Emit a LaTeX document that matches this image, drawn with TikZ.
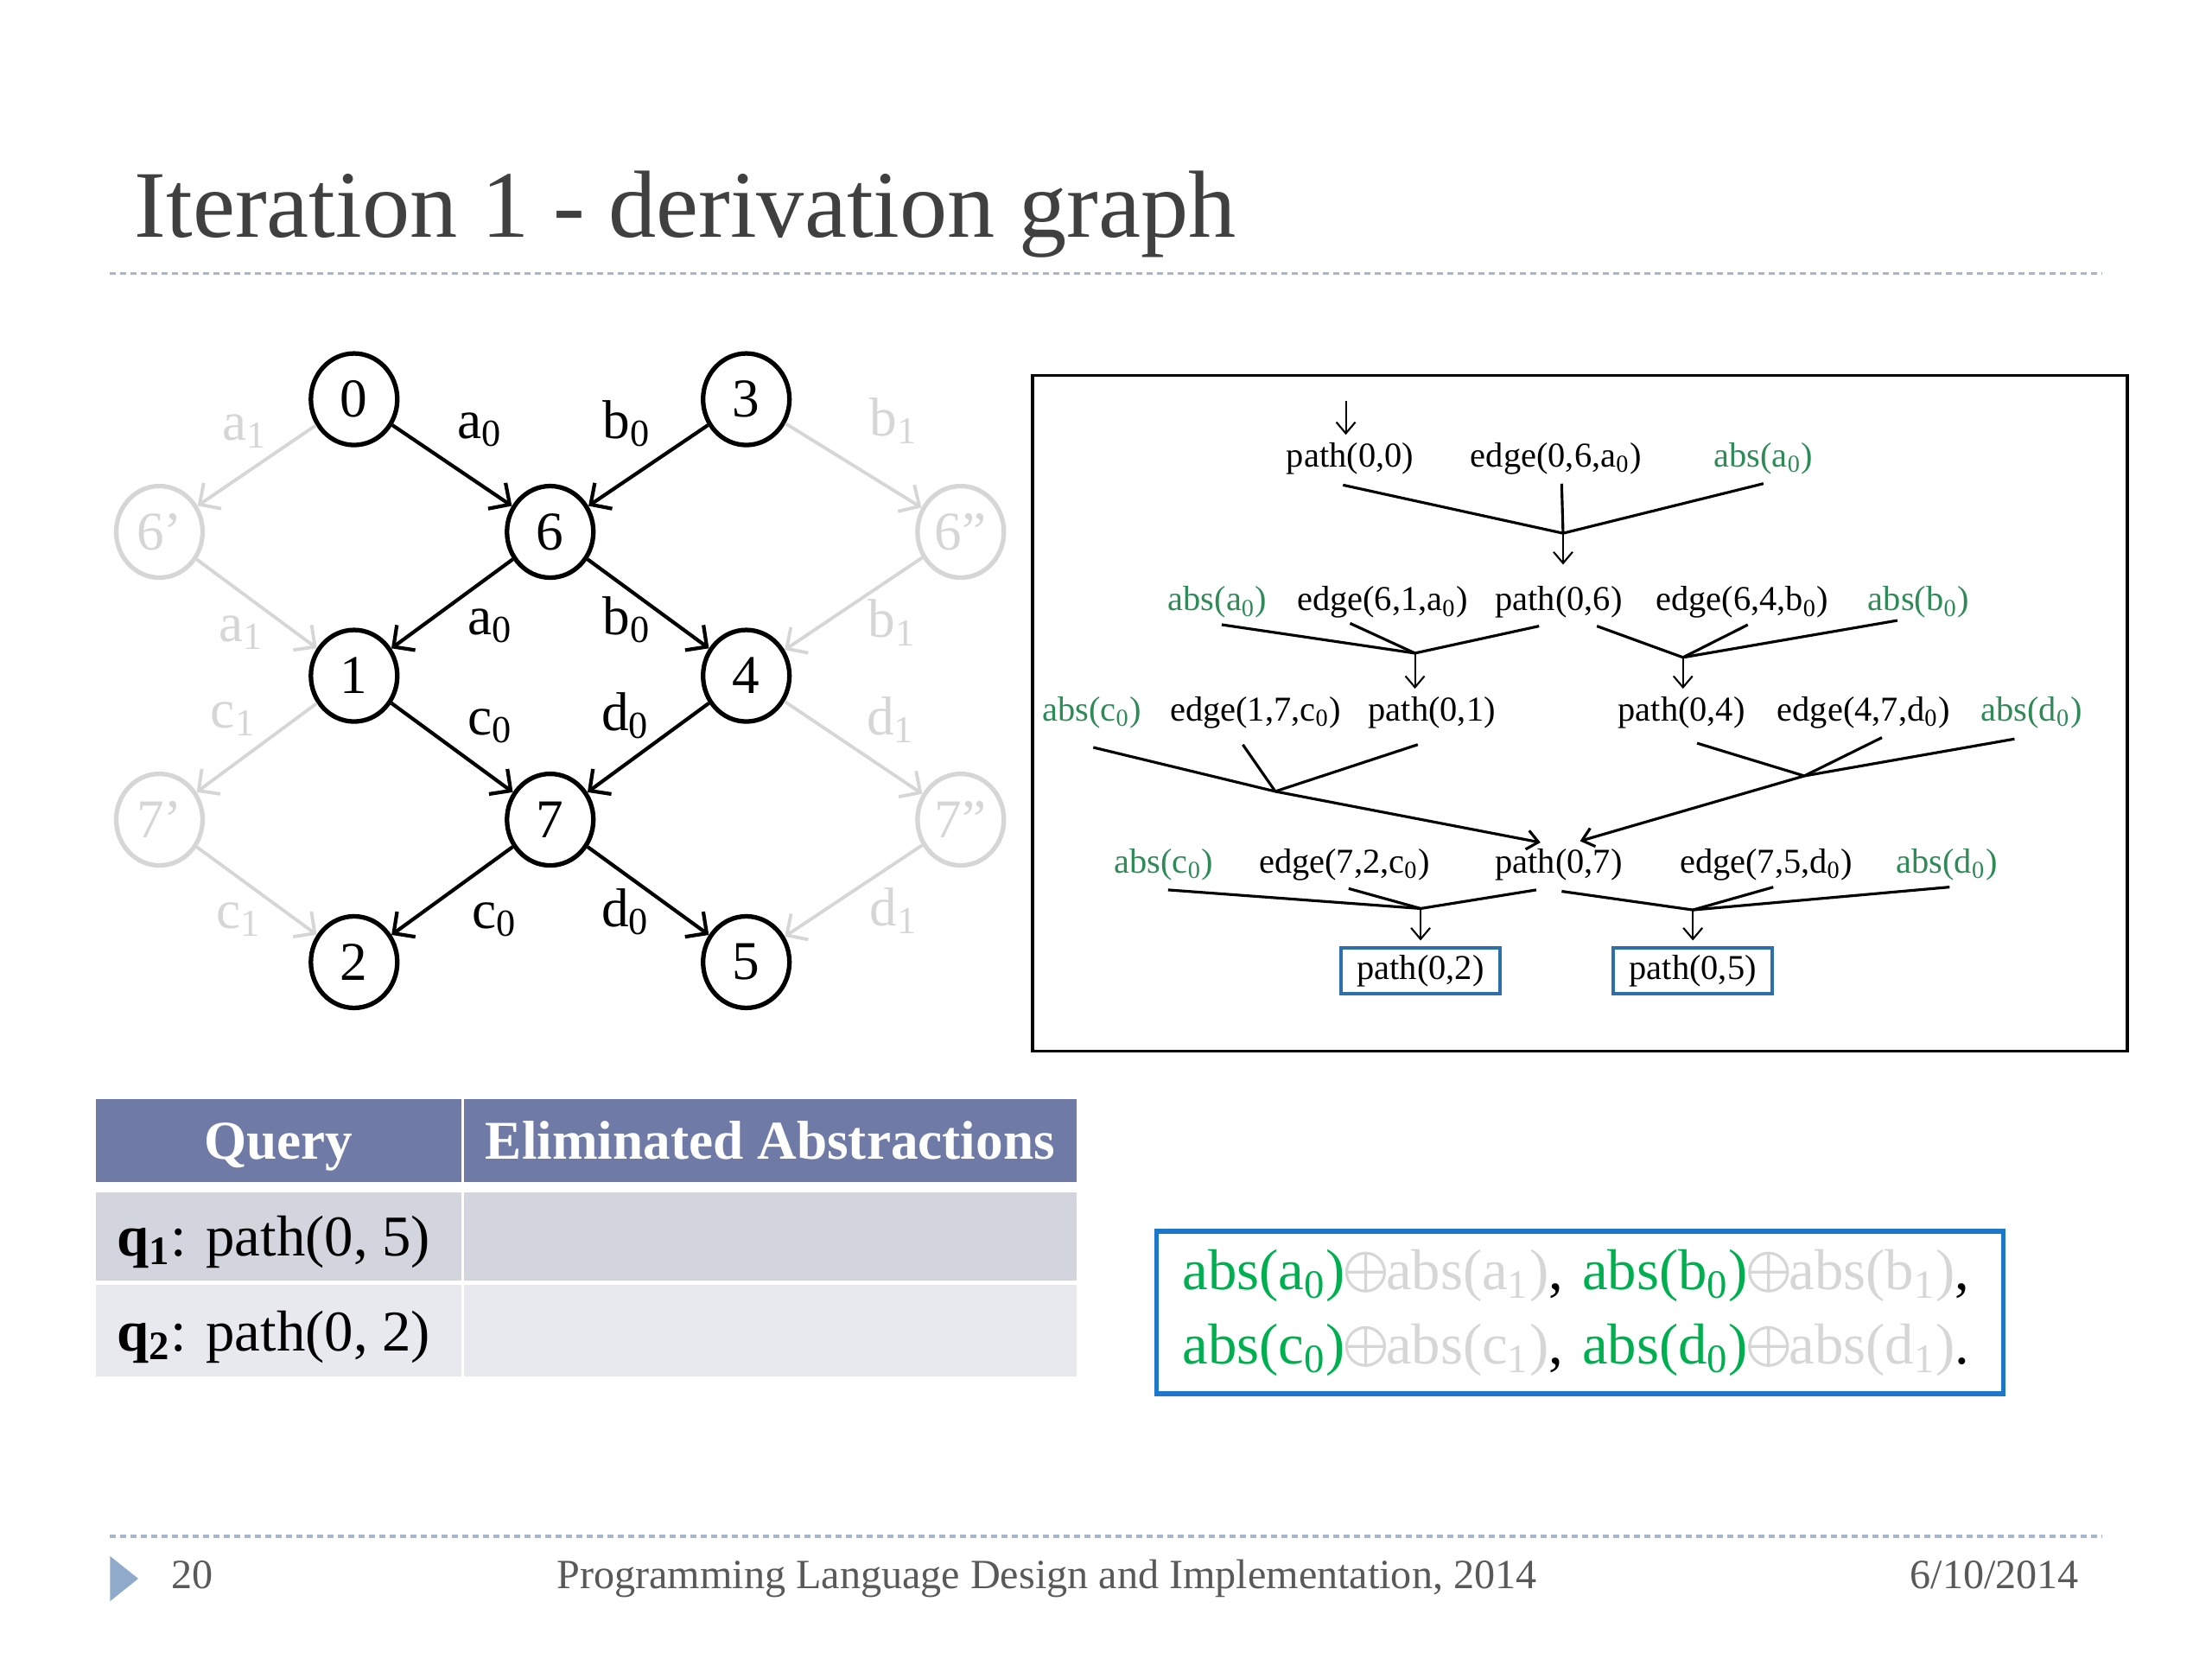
\documentclass[tikz,border=0pt]{standalone}
\usepackage{fontspec}
\setmainfont{Liberation Serif}
\usetikzlibrary{arrows.meta, calc, shapes.geometric}
\definecolor{titlegray}{RGB}{64,64,64}
\definecolor{rulebl}{RGB}{165,182,206}
\definecolor{ghost}{RGB}{214,214,214}
\definecolor{absgreen}{RGB}{46,139,87}
\definecolor{brightgreen}{RGB}{0,176,80}
\definecolor{hdrblue}{RGB}{111,123,166}
\definecolor{rowone}{RGB}{210,213,222}
\definecolor{rowtwo}{RGB}{232,233,238}
\definecolor{boxblue}{RGB}{31,119,204}
\definecolor{goalblue}{RGB}{46,110,170}
\definecolor{footgray}{RGB}{89,89,89}
\definecolor{footblue}{RGB}{143,170,203}
\newcommand{\low}[1]{\textsubscript{#1}}
\newcommand{\xor}{\tikz[baseline={(0,-0.2cm)}, x=1cm, y=1cm]
  \draw[ghost, line width=0.9pt] (0,0) circle[radius=0.22cm] (-0.22cm,0) -- (0.22cm,0) (0,-0.22cm) -- (0,0.22cm);}
\tikzset{
  vert/.style={ellipse, draw, line width=1.5pt, minimum width=1cm, minimum height=1.06cm, inner sep=0pt, font=\fontsize{18}{20}\selectfont},
  ghostvert/.style={vert, draw=ghost, text=ghost},
  flow/.style={line width=1.2pt, -{Straight Barb[length=1.8mm, width=3.6mm]}},
  ghostflow/.style={flow, draw=ghost, line width=1.1pt},
  lbl/.style={anchor=base west, inner sep=0pt, font=\fontsize{18}{20}\selectfont},
  ghostlbl/.style={lbl, text=ghost},
  fact/.style={inner sep=1pt, font=\fontsize{11.5}{13}\selectfont},
  absfact/.style={fact, text=absgreen},
  goal/.style={fact, draw=goalblue, line width=1pt, minimum width=1.84cm, minimum height=0.53cm},
  merge/.style={line width=0.9pt},
  derive/.style={line width=0.6pt, -{Straight Barb[length=1.3mm, width=2.2mm]}},
  hdrcell/.style={fill=hdrblue, inner sep=0pt, minimum height=0.963cm, text height=12pt, text depth=0pt, text=white, font=\fontsize{18}{20}\selectfont\bfseries},
  rowcell/.style={inner sep=0pt, text height=13pt, text depth=0pt, font=\fontsize{19}{22}\selectfont},
  dashrule/.style={rulebl, line width=0.9pt, dash pattern=on 0.07cm off 0.05cm}
}
\begin{document}
\begin{tikzpicture}[x=0.016327cm, y=-0.016327cm]
\useasboundingbox (0,0) rectangle (1568,1176);
\node[anchor=base west, inner sep=0pt, text=titlegray, font=\fontsize{31.4}{36}\selectfont] (title) at (95,168) {Iteration 1 - derivation graph};
\draw[dashrule] (78,194) -- (1490,194);

\node[vert] (n0) at (251,283) {0};
\node[vert] (n3) at (529,283) {3};
\node[vert] (n6) at (390,377) {6};
\node[ghostvert] (n6a) at (113,377) {6’};
\node[ghostvert] (n6b) at (681,377) {6”};
\node[vert] (n1) at (251,479) {1};
\node[vert] (n4) at (529,479) {4};
\node[vert] (n7) at (390,581) {7};
\node[ghostvert] (n7a) at (113,581) {7’};
\node[ghostvert] (n7b) at (681,581) {7”};
\node[vert] (n2) at (251,682) {2};
\node[vert] (n5) at (529,682) {5};
\foreach \s/\t in {n0/n6, n3/n6, n6/n1, n6/n4, n1/n7, n4/n7, n7/n2, n7/n5}
  \draw[flow] (\s) -- (\t);
\foreach \s/\t in {n0/n6a, n6a/n1, n3/n6b, n6b/n4, n1/n7a, n7a/n2, n4/n7b, n7b/n5}
  \draw[ghostflow] (\s) -- (\t);
\foreach \x/\y/\t/\n in {324/311/a/la06, 427/311/b/lb36, 331/450/a/la61, 427/450/b/lb64,
    331/521/c/lc17, 426/518/d/ld47, 334/658/c/lc72, 426/657/d/ld75}
  \node[lbl] (\n) at (\x,\y) {\t\low{0}};
\foreach \x/\y/\t/\n in {157/312/a/ga06, 616/309/b/gb36, 155/455/a/ga61, 615/452/b/gb64,
    149/516/c/gc17, 614/521/d/gd47, 153/658/c/gc72, 616/656/d/gd75}
  \node[ghostlbl] (\n) at (\x,\y) {\t\low{1}};

\draw[line width=1pt] (732,266) rectangle (1508,745);
\node[fact] (p00) at (957,325) {path(0,0)};
\node[fact] (e06) at (1103,325) {edge(0,6,a\low{0})};
\node[absfact] (aa0) at (1250,325) {abs(a\low{0})};
\node[absfact] (ab1) at (863,427) {abs(a\low{0})};
\node[fact] (e61) at (980,427) {edge(6,1,a\low{0})};
\node[fact] (p06) at (1105,427) {path(0,6)};
\node[fact] (e64) at (1235,427) {edge(6,4,b\low{0})};
\node[absfact] (bb0) at (1360,427) {abs(b\low{0})};
\node[absfact] (ac0) at (774,505) {abs(c\low{0})};
\node[fact] (e17) at (890,505) {edge(1,7,c\low{0})};
\node[fact] (p01) at (1015,505) {path(0,1)};
\node[fact] (p04) at (1192,505) {path(0,4)};
\node[fact] (e47) at (1321,505) {edge(4,7,d\low{0})};
\node[absfact] (ad0) at (1440,505) {abs(d\low{0})};
\node[absfact] (ac1) at (825,613) {abs(c\low{0})};
\node[fact] (e72) at (953,613) {edge(7,2,c\low{0})};
\node[fact] (p07) at (1105,613) {path(0,7)};
\node[fact] (e75) at (1252,613) {edge(7,5,d\low{0})};
\node[absfact] (ad1) at (1380,613) {abs(d\low{0})};
\node[goal] (p02) at (1007,688) {path(0,2)};
\node[goal] (p05) at (1200,688) {path(0,5)};
\coordinate (entry) at (954,284);
\coordinate (j1) at (1108,378);
\coordinate (j2a) at (1003,463);
\coordinate (j2b) at (1193,466);
\coordinate (j3a) at (904,561);
\coordinate (j3b) at (1279,550);
\coordinate (j4a) at (1007,644);
\coordinate (j4b) at (1200,645);

\draw[derive] (entry) -- ($(p00.north)+(-3,-3)$);
\draw[merge] ($(p00.south)+(-5,5)$) -- (j1);
\draw[merge] ($(e06.south)+(4,4)$) -- (j1);
\draw[merge] ($(aa0.south)+(0,4)$) -- (j1);
\draw[derive] (j1) -- ($(p06.north)+(3,-13)$);

\draw[merge] ($(ab1.south)+(3,2)$) -- (j2a);
\draw[merge] ($(e61.south)+(-23,1)$) -- (j2a);
\draw[merge] ($(p06.south)+(-14,3)$) -- (j2a);
\draw[derive] (j2a) -- ($(p01.north)+(-12,-3)$);
\draw[merge] ($(p06.south)+(27,3)$) -- (j2b);
\draw[merge] ($(e64.south)+(4,2)$) -- (j2b);
\draw[merge] ($(bb0.south)+(-15,-1)$) -- (j2b);
\draw[derive] (j2b) -- ($(p04.north)+(1,-3)$);

\draw[merge] ($(e17.south)+(-9,9)$) -- (j3a);
\draw[merge] ($(p01.south)+(-10,9)$) -- (j3a);
\draw[merge, -{Straight Barb[length=1.3mm, width=2.2mm]}] ($(ac0.south)+(1,11)$) -- (j3a) -- ($(p07.north)+(-13,-2)$);
\draw[merge] ($(p04.south)+(11,8)$) -- (j3b);
\draw[merge] ($(e47.south)+(13,4)$) -- (j3b);
\draw[merge] ($(ad0.south)+(-12,5)$) -- (j3b);
\draw[merge, -{Straight Barb[length=1.3mm, width=2.2mm]}] (j3b) -- ($(p07.north)+(15,-3)$);

\draw[merge] ($(ac1.south)+(3,4)$) -- (j4a);
\draw[merge] ($(e72.south)+(3,3)$) -- (j4a);
\draw[merge] ($(p07.south)+(-16,4)$) -- (j4a);
\draw[derive] (j4a) -- ($(p02.north)+(0,-4)$);
\draw[merge] ($(p07.south)+(2,5)$) -- (j4b);
\draw[merge] ($(e75.south)+(5,2)$) -- (j4b);
\draw[merge] ($(ad1.south)+(2,2)$) -- (j4b);
\draw[derive] (j4b) -- ($(p05.north)+(0,-4)$);

\node[hdrcell, minimum width=4.229cm] (hq) at (197.5,808.5) {Query};
\node[hdrcell, minimum width=7.086cm] (ha) at (546,808.5) {Eliminated Abstractions};
\node[rowcell, fill=rowone, minimum width=4.229cm, minimum height=1.02cm] (q1) at (197.5,876.25) {\makebox[3.739cm][l]{\textbf{q\low{1}}: path(0, 5)}};
\node[rowcell, fill=rowone, minimum width=7.086cm, minimum height=1.02cm] (e1) at (546,876.25) {};
\node[rowcell, fill=rowtwo, minimum width=4.229cm, minimum height=1.061cm] (q2) at (197.5,943.5) {\makebox[3.739cm][l]{\textbf{q\low{2}}: path(0, 2)}};
\node[rowcell, fill=rowtwo, minimum width=7.086cm, minimum height=1.061cm] (e2) at (546,943.5) {};

\node[draw=boxblue, line width=1.6pt, minimum width=9.8cm, minimum height=1.88cm, text width=9.2cm, inner xsep=0.3cm, align=left, font=\fontsize{19}{24.5}\selectfont] (sumbox) at (1120,930.5)
  {\mbox{\textcolor{brightgreen}{abs(a\low{0})}\xor\textcolor{ghost}{abs(a\low{1})}, \textcolor{brightgreen}{abs(b\low{0})}\xor\textcolor{ghost}{abs(b\low{1})},}\\
   \mbox{\textcolor{brightgreen}{abs(c\low{0})}\xor\textcolor{ghost}{abs(c\low{1})}, \textcolor{brightgreen}{abs(d\low{0})}\xor\textcolor{ghost}{abs(d\low{1})}.}};

\draw[dashrule] (78,1089) -- (1490,1089);
\fill[footblue] (78,1103) -- (98,1119) -- (78,1135) -- cycle;
\node[anchor=base west, inner sep=0pt, text=footgray, font=\fontsize{13.7}{16}\selectfont] (pgno) at (121,1126) {20};
\node[anchor=base, inner sep=0pt, text=footgray, font=\fontsize{13.7}{16}\selectfont] (conf) at (742,1126) {Programming Language Design and Implementation, 2014};
\node[anchor=base east, inner sep=0pt, text=footgray, font=\fontsize{13.7}{16}\selectfont] (date) at (1474,1126) {6/10/2014};
\end{tikzpicture}
\end{document}
